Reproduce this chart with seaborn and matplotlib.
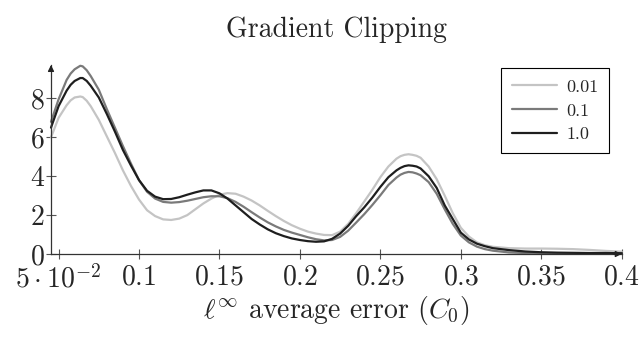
import numpy as np
import pandas as pd
import matplotlib
matplotlib.use("Agg")
import matplotlib.pyplot as plt
import seaborn as sns

# ---- data ----
x_vals = [0.0453, 0.05, 0.055, 0.0575, 0.06, 0.0635, 0.065, 0.0675, 0.07, 0.075,
          0.08, 0.085, 0.09, 0.095, 0.10, 0.105, 0.11, 0.115, 0.12, 0.125,
          0.13, 0.135, 0.14, 0.145, 0.15, 0.155, 0.16, 0.165, 0.17, 0.175,
          0.18, 0.185, 0.19, 0.195, 0.20, 0.205, 0.21, 0.215, 0.22, 0.225,
          0.23, 0.235, 0.24, 0.245, 0.25, 0.255, 0.26, 0.2625, 0.265, 0.2675,
          0.27, 0.2725, 0.275, 0.28, 0.285, 0.29, 0.295, 0.30, 0.305, 0.31,
          0.315, 0.32, 0.33, 0.34, 0.35, 0.36, 0.37, 0.38, 0.39, 0.40]

clip_001 = [6.0, 7.0, 7.65, 7.9, 8.05, 8.1, 8.07, 7.88, 7.6, 6.9,
            6.05, 5.2, 4.3, 3.5, 2.8, 2.25, 1.95, 1.78, 1.75, 1.82,
            2.0, 2.3, 2.6, 2.85, 3.05, 3.13, 3.1, 2.95, 2.75, 2.5,
            2.22, 1.95, 1.7, 1.48, 1.3, 1.15, 1.05, 0.98, 0.97, 1.15,
            1.55, 2.1, 2.7, 3.3, 3.95, 4.5, 4.9, 5.03, 5.1, 5.13,
            5.1, 5.05, 4.95, 4.5, 3.85, 3.0, 2.1, 1.35, 0.9, 0.6,
            0.45, 0.37, 0.3, 0.28, 0.28, 0.27, 0.25, 0.21, 0.16, 0.12]

clip_01 = [6.8, 7.95, 8.95, 9.28, 9.5, 9.68, 9.65, 9.45, 9.15, 8.45,
           7.45, 6.5, 5.55, 4.65, 3.8, 3.2, 2.85, 2.68, 2.64, 2.67,
           2.74, 2.83, 2.92, 2.97, 2.97, 2.87, 2.68, 2.43, 2.15, 1.88,
           1.63, 1.42, 1.24, 1.1, 0.98, 0.86, 0.76, 0.7, 0.72, 0.88,
           1.2, 1.62, 2.05, 2.52, 3.02, 3.55, 3.93, 4.08, 4.17, 4.22,
           4.2, 4.14, 4.05, 3.7, 3.1, 2.3, 1.55, 0.95, 0.6, 0.38,
           0.25, 0.17, 0.08, 0.05, 0.03, 0.02, 0.02, 0.01, 0.01, 0.01]

clip_1 = [6.5, 7.6, 8.4, 8.7, 8.9, 9.05, 9.05, 8.9, 8.65, 8.05,
          7.2, 6.3, 5.35, 4.55, 3.8, 3.25, 2.95, 2.82, 2.83, 2.92,
          3.05, 3.17, 3.27, 3.27, 3.12, 2.85, 2.5, 2.15, 1.8, 1.52,
          1.27, 1.07, 0.92, 0.8, 0.72, 0.66, 0.63, 0.65, 0.78, 1.05,
          1.45, 1.95, 2.4, 2.9, 3.45, 3.95, 4.3, 4.43, 4.52, 4.56,
          4.54, 4.5, 4.4, 4.0, 3.4, 2.5, 1.8, 1.1, 0.75, 0.53,
          0.4, 0.3, 0.2, 0.13, 0.09, 0.07, 0.06, 0.05, 0.05, 0.04]

series_names = ["0.01", "0.1", "1.0"]
series_colors = ["#c4c4c4", "#7a7a7a", "#1e1e1e"]

x_ticks = [0.05, 0.1, 0.15, 0.2, 0.25, 0.3, 0.35, 0.4]
x_tick_labels = [r"$5\cdot10^{-2}$", r"$0.1$", r"$0.15$", r"$0.2$", r"$0.25$",
                 r"$0.3$", r"$0.35$", r"$0.4$"]
y_ticks = [0, 2, 4, 6, 8]
y_tick_labels = [r"$0$", r"$2$", r"$4$", r"$6$", r"$8$"]

title = "Gradient Clipping"
x_label = r"$\ell^\infty$ average error $(C_0)$"

# ---- build long-form table ----
frames = []
for name, vals in zip(series_names, [clip_001, clip_01, clip_1]):
    frames.append(pd.DataFrame({"x": x_vals, "density": vals, "clip": name}))
df = pd.concat(frames, ignore_index=True)

sns.set_theme(style="white")
plt.rcParams["font.family"] = ["cmr10", "DejaVu Serif"]
plt.rcParams["mathtext.fontset"] = "cm"
plt.rcParams["axes.formatter.use_mathtext"] = True
plt.rcParams["axes.unicode_minus"] = False

fig = plt.figure(figsize=(6.43, 3.45), dpi=100)
ax = fig.add_axes([51 / 643, 91 / 345, (621.7 - 51) / 643, (254 - 65) / 345])

sns.lineplot(data=df, x="x", y="density", hue="clip", hue_order=series_names,
             palette=dict(zip(series_names, series_colors)), estimator=None,
             sort=False, linewidth=1.6, ax=ax, legend=True)

ax.set_xlim(0.0453, 0.4)
ax.set_ylim(0, 9.72)
for ln in ax.lines:
    ln.set_clip_on(False)
    ln.set_solid_joinstyle("round")

ax.set_xticks(x_ticks)
ax.set_xticklabels(x_tick_labels)
ax.set_yticks(y_ticks)
ax.set_yticklabels(y_tick_labels)
ax.tick_params(axis="both", direction="inout", length=7, width=0.8,
               color="#555555", labelsize=20, left=True, bottom=True)
ax.tick_params(axis="x", pad=4)
ax.tick_params(axis="y", pad=1)

for side in ["top", "right"]:
    ax.spines[side].set_visible(False)
for side in ["left", "bottom"]:
    ax.spines[side].set_color("#333333")
    ax.spines[side].set_linewidth(0.9)

# axis arrow tips
ax.annotate("", xy=(1.0, 0), xytext=(0.985, 0), xycoords="axes fraction",
            arrowprops=dict(arrowstyle="-|>", color="#222222", lw=0.9,
                            mutation_scale=9, shrinkA=0, shrinkB=0))
ax.annotate("", xy=(0, 1.0), xytext=(0, 0.97), xycoords="axes fraction",
            arrowprops=dict(arrowstyle="-|>", color="#222222", lw=0.9,
                            mutation_scale=9, shrinkA=0, shrinkB=0))

ax.set_xlabel(x_label, fontsize=20, labelpad=1)
ax.set_ylabel("")
ax.set_title(title, fontsize=20, pad=20)

leg = ax.legend(loc="upper right", bbox_to_anchor=(0.978, 0.9825),
                borderaxespad=0, fontsize=13, frameon=True, fancybox=False,
                edgecolor="black", framealpha=1, handlelength=2.5,
                labelspacing=0.45, borderpad=0.6, handletextpad=0.5)
leg.get_frame().set_linewidth(0.8)
for h in leg.get_lines():
    h.set_linewidth(1.6)

fig.savefig("out.png", dpi=100)
